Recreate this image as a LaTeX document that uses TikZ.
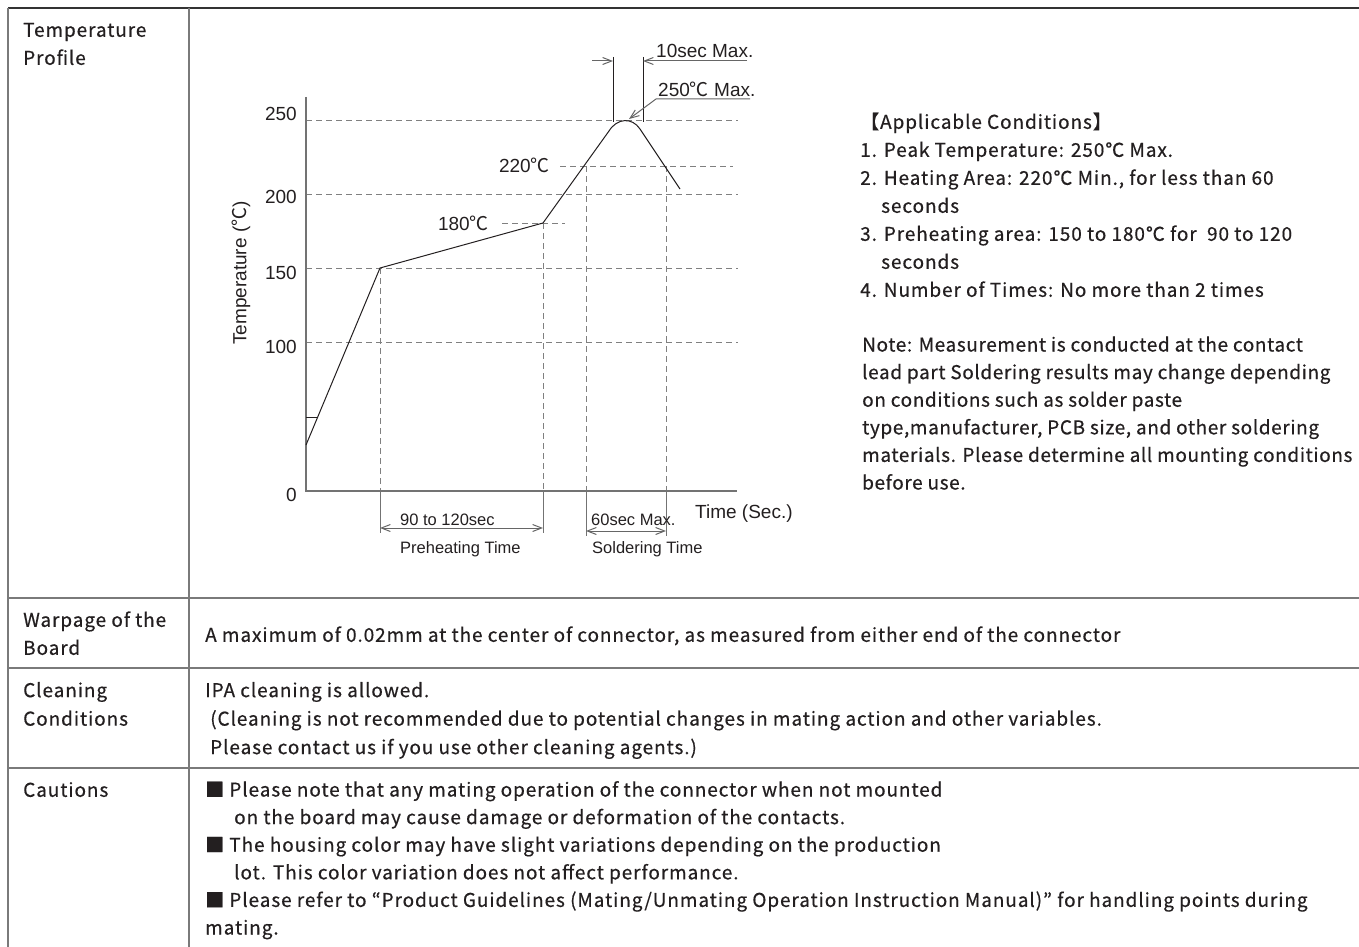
\documentclass[tikz,border=0pt]{standalone}
\usepackage{fontspec}
\setmainfont{Noto Sans CJK JP}[LetterSpace=4.8, FakeBold=0.5]
\newfontfamily\notefont{Noto Sans CJK JP}[LetterSpace=3.2, FakeBold=0.5]
\newfontfamily\chartfont{Liberation Sans}
\newfontfamily\cjk{Noto Sans CJK JP}
\usetikzlibrary{arrows.meta}
\definecolor{rulegray}{HTML}{7A7A7A}
\definecolor{ink}{HTML}{231F20}
\newcommand\dgC{{\cjk ℃}}
\newcommand\tabfont{\fontsize{19}{28}\selectfont}

\tikzset{
  tabrule/.style={draw=rulegray, line width=1.5pt},
  gridline/.style={draw=gray, line width=0.9pt, dash pattern=on 6pt off 4pt},
  axisline/.style={draw=gray!90!black, line width=1.6pt},
  profile/.style={draw=ink, line width=1pt},
  barb/.style={-{Straight Barb[length=9pt,width=7pt]}},
  dimline/.style={draw=gray!80!black, line width=1pt,
    {Straight Barb[length=9pt,width=7pt]}-{Straight Barb[length=9pt,width=7pt]}},
  cell/.style={anchor=north west, inner sep=0pt, align=left, text=ink, font=\tabfont},
  lab/.style={inner sep=0pt, text=ink, font=\chartfont\fontsize{19}{22}\selectfont},
  smalllab/.style={lab, font=\chartfont\fontsize{16.5}{20}\selectfont},
}

\begin{document}
\begin{tikzpicture}[x=1pt,y=-1pt]
\useasboundingbox (0,0) rectangle (1359,947);

\draw[draw=black!80, line width=2pt] (8,8) -- (1359,8);
\draw[tabrule] (8,8) -- (8,947) (189,8) -- (189,947);
\foreach \y in {598,668,768} \draw[tabrule] (8,\y) -- (1359,\y);

\node[cell] (tprof) at (23,17) {\strut Temperature\\Profile};
\node[cell] (warp) at (23,607) {\strut Warpage of the\\Board};
\node[cell] (warptxt) at (205,622) {\strut A maximum of 0.02mm at the center of connector, as measured from either end of the connector};
\node[cell, font=\fontsize{19}{28.5}\selectfont] (clean) at (23,677) {\strut Cleaning\\Conditions};
\node[cell, font=\fontsize{19}{28.5}\selectfont] (cleantxt) at (205,677) {\strut IPA cleaning is allowed.\\
  \hspace*{5pt}(Cleaning is not recommended due to potential changes in mating action and other variables.\\
  \hspace*{5pt}Please contact us if you use other cleaning agents.)};
\node[cell] (caut) at (23,777) {\strut Cautions};
\node[cell, font=\fontsize{19}{27.6}\selectfont] (cauttxt) at (205,777) {\strut ■ Please note that any mating operation of the connector when not mounted\\
  \hspace*{29pt}on the board may cause damage or deformation of the contacts.\\
  ■ The housing color may have slight variations depending on the production\\
  \hspace*{29pt}lot. This color variation does not affect performance.\\
  ■ Please refer to “Product Guidelines (Mating/Unmating Operation Instruction Manual)” for handling points during\\
  mating.};

\node[cell] (cond) at (860,109) {\strut 【Applicable Conditions】\\
  1. Peak Temperature: 250℃ Max.\\
  2. Heating Area: 220℃ Min., for less than 60\\
  \hspace*{21pt}seconds\\
  3. Preheating area: 150 to 180℃ for \ 90 to 120\\
  \hspace*{21pt}seconds\\
  4. Number of Times: No more than 2 times};
\node[cell, font=\notefont\fontsize{19}{27.6}\selectfont] (note) at (862,332) {\strut Note: Measurement is conducted at the contact\\
  lead part Soldering results may change depending\\
  on conditions such as solder paste\\
  type,manufacturer, PCB size, and other soldering\\
  materials. Please determine all mounting conditions\\
  before use.};

\coordinate (o) at (306,491);
\coordinate (ytop) at (306,97);
\coordinate (xend) at (737,491);
\coordinate (p0) at (306,445);
\coordinate (p150) at (380,268);
\coordinate (p180) at (543,223);
\coordinate (pend) at (680,189);
\coordinate (s1) at (586,166);
\coordinate (s2) at (666,166);

\foreach \v/\y/\ly in {250/120/114,200/194/197,150/268/273,100/342/347}{
  \draw[gridline] (306,\y) -- (738,\y);
  \node[lab, anchor=east] (t\v) at (297,\ly) {\v};
}
\node[lab, anchor=east] (t0) at (297,495) {0};
\draw[gridline] (502,223) -- (565,223);
\draw[gridline] (560,166) -- (733,166);
\draw[gridline] (p150) -- (380,491);
\draw[gridline] (p180) -- (543,491);
\draw[gridline] (s1) -- (586,491);
\draw[gridline] (s2) -- (666,491);
\draw[axisline] (ytop) -- (o) -- (xend);
\draw[axisline, line width=1pt] (380,491) -- (380,533) (543,491) -- (543,533)
  (586,491) -- (586,536) (666,491) -- (666,536);

\draw[profile] (p0) -- (p150) -- (p180) -- (609,131)
  .. controls (617,118) and (632,117) .. (640,129) -- (pend);
\draw[profile] (306,417) -- (317,417);

\draw[profile] (613,57) -- (613,122) (643,57) -- (643,122);
\draw[profile, draw=gray!80!black, barb] (592,61) -- (613,61);
\draw[profile, draw=gray!80!black, barb] (747,61) -- (643,61);
\draw[profile, draw=gray!80!black, barb] (750,99) -- (656,99) -- (629,119);
\draw[dimline] (380,528) -- (543,528);
\draw[dimline] (586,531) -- (666,531);

\node[lab, anchor=base west] (tenmax) at (656,58) {10sec Max.};
\node[lab, anchor=base west] (peakmax) at (658,97) {250\dgC{} Max.};
\node[lab, anchor=base east] (l220) at (550,172) {220\dgC};
\node[lab, anchor=base east] (l180) at (489,230) {180\dgC};
\node[lab, anchor=base west] (timeax) at (695,518) {Time (Sec.)};
\node[lab, rotate=90] (tempax) at (241,273) {Temperature (\dgC)};
\node[smalllab, anchor=base west] (pre) at (400,525) {90 to 120sec};
\node[smalllab, anchor=base west] (pretime) at (400,553) {Preheating Time};
\node[smalllab, anchor=base west] (sol) at (591,525) {60sec Max.};
\node[smalllab, anchor=base west] (soltime) at (592,553) {Soldering Time};
\end{tikzpicture}
\end{document}
